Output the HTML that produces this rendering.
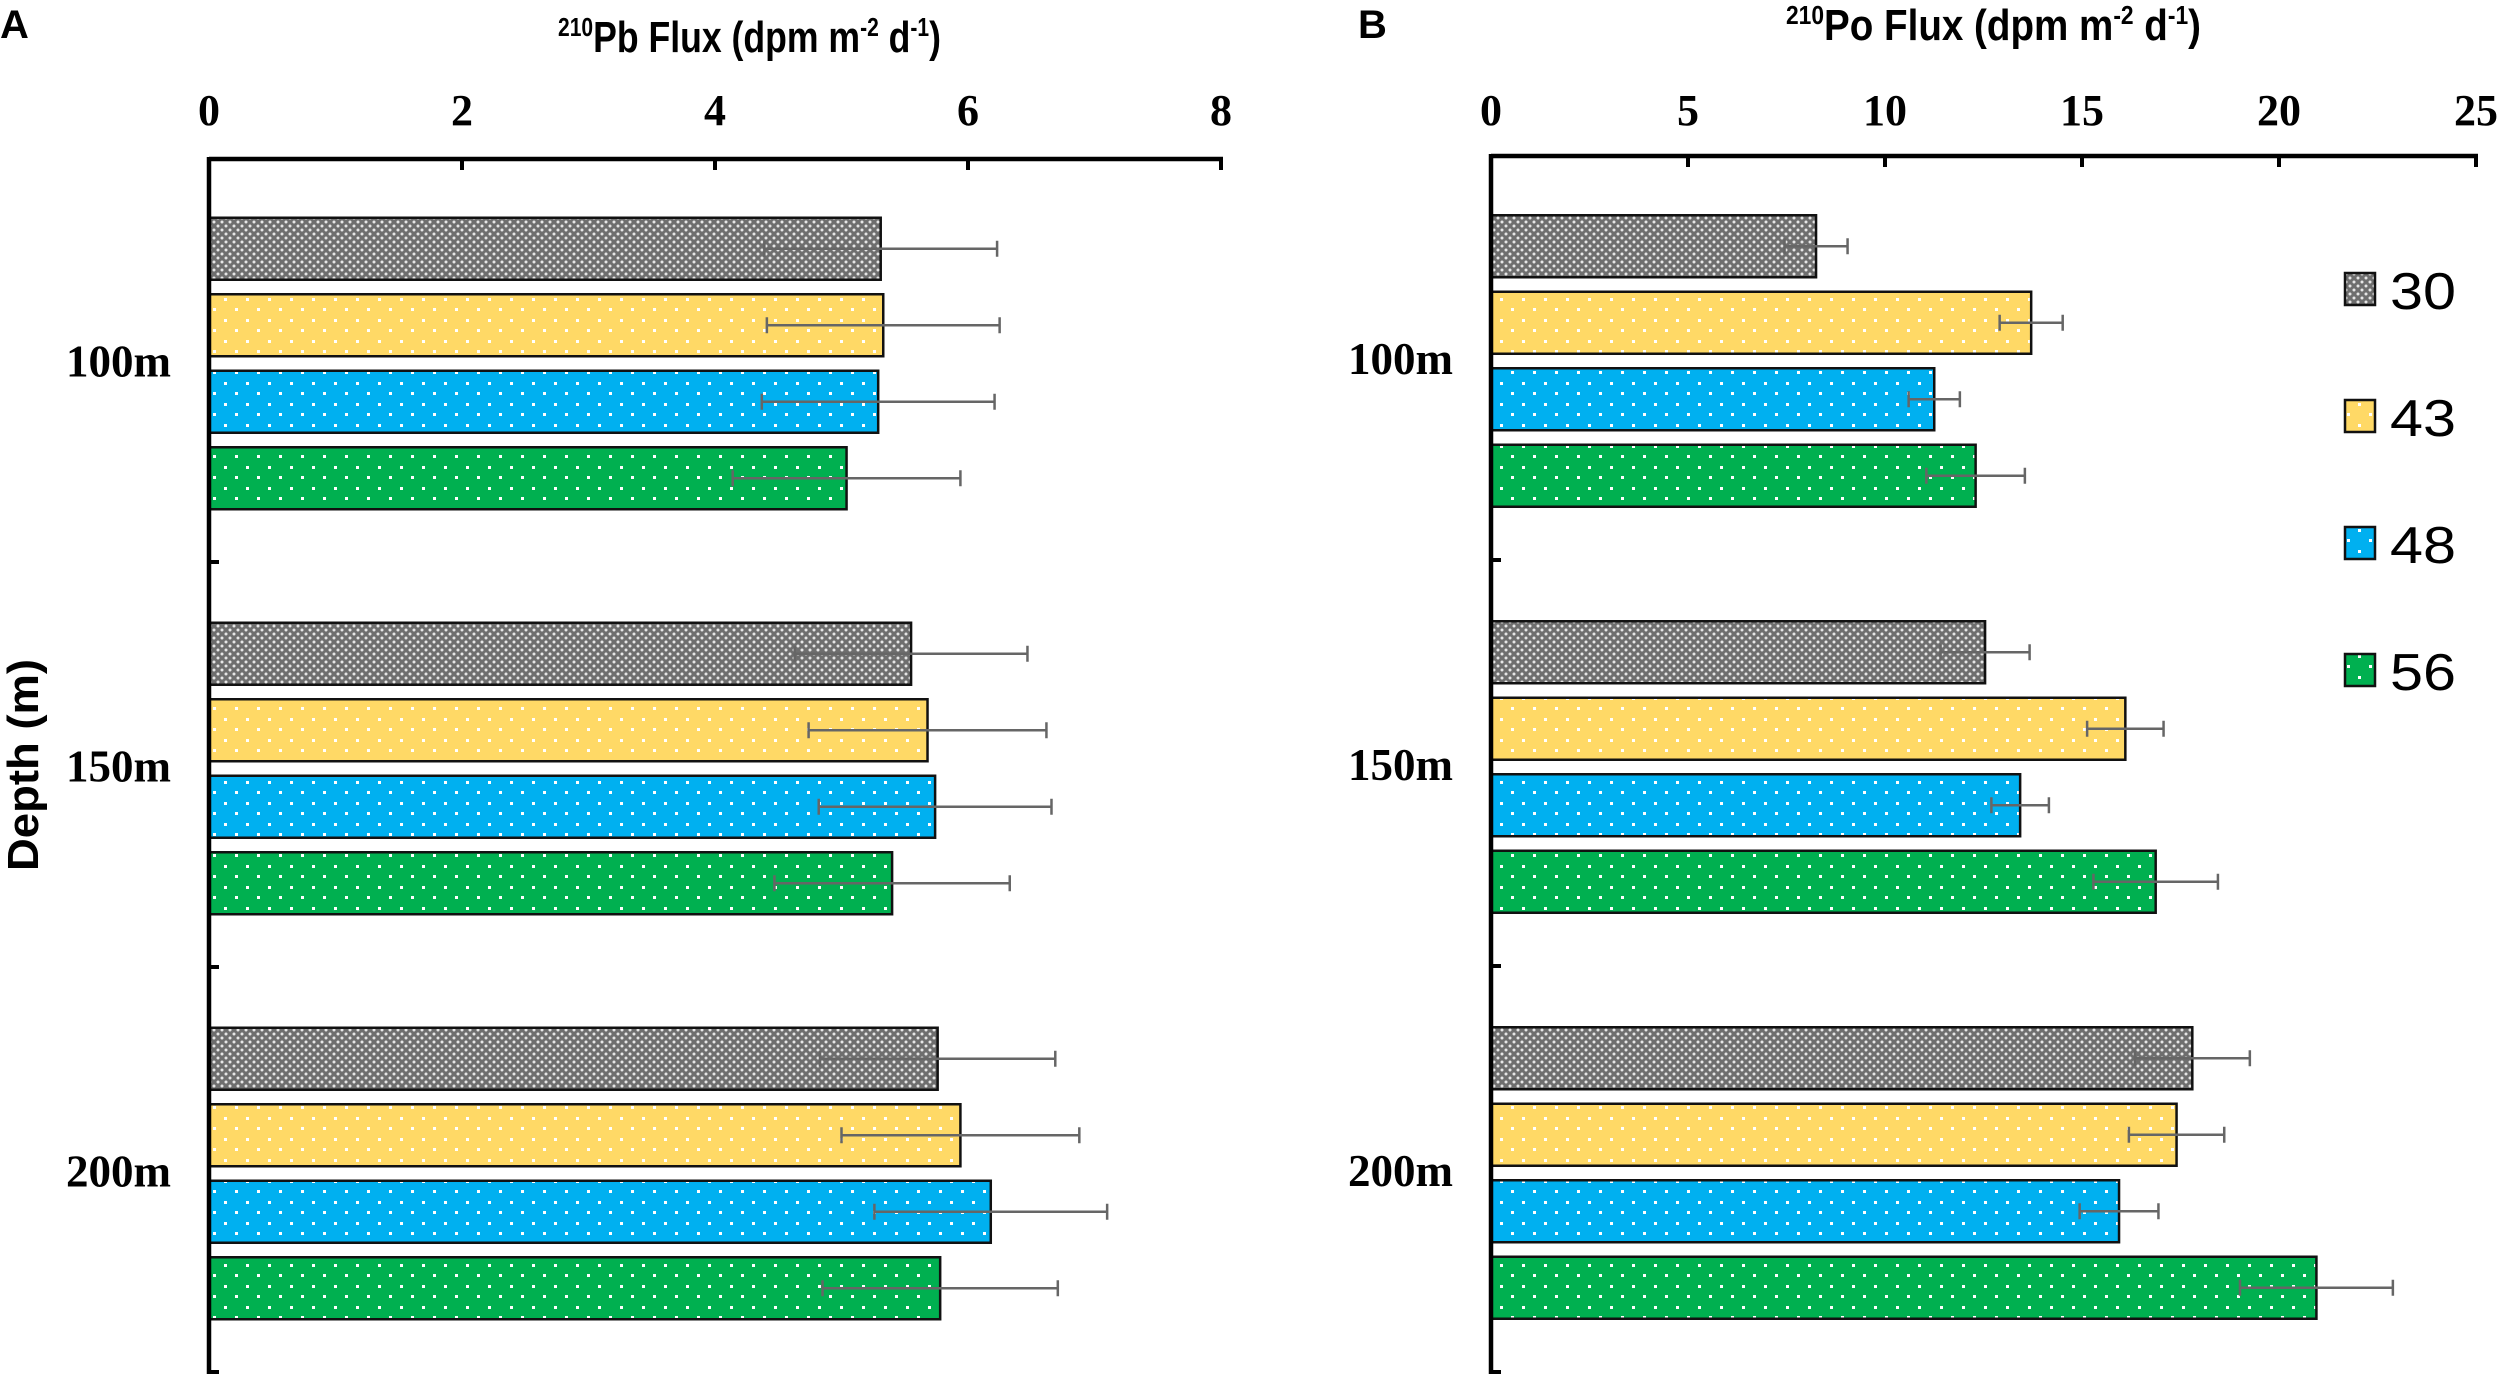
<!DOCTYPE html>
<html><head><meta charset="utf-8"><style>
body{margin:0;background:#fff;}
svg{display:block;}
.tick{font-family:"Liberation Serif",serif;font-weight:bold;font-size:44px;fill:#000;}
.cat{font-family:"Liberation Serif",serif;font-weight:bold;font-size:45px;fill:#000;}
.title{font-family:"Liberation Sans",sans-serif;font-weight:bold;font-size:44px;fill:#000;}
.leg{font-family:"Liberation Sans",sans-serif;font-size:52px;fill:#000;}
</style></head><body>
<svg id="chart" width="2500" height="1382" viewBox="0 0 2500 1382" xmlns="http://www.w3.org/2000/svg">
<defs>
<pattern id="p-gray" width="8" height="8" patternUnits="userSpaceOnUse"><rect width="8" height="8" fill="#6e6e6e"/><circle cx="2" cy="2" r="1.5" fill="#e6e6e6"/><circle cx="6" cy="6" r="1.5" fill="#e6e6e6"/></pattern>
<pattern id="p-yellow" width="22" height="21" patternUnits="userSpaceOnUse"><rect width="22" height="21" fill="#FFD966"/><rect x="4" y="4" width="3" height="3" fill="#fff"/><rect x="15" y="14" width="3" height="3" fill="#fff"/></pattern>
<pattern id="p-blue" width="22" height="21" patternUnits="userSpaceOnUse"><rect width="22" height="21" fill="#00B0F0"/><rect x="4" y="4" width="3" height="3" fill="#fff"/><rect x="15" y="14" width="3" height="3" fill="#fff"/></pattern>
<pattern id="p-green" width="22" height="21" patternUnits="userSpaceOnUse"><rect width="22" height="21" fill="#00B050"/><rect x="4" y="4" width="3" height="3" fill="#fff"/><rect x="15" y="14" width="3" height="3" fill="#fff"/></pattern>
</defs>
<g id="root"></g>
</svg>
<script>
const categories = ["100m","150m","200m"];
const seriesNames = ["30","43","48","56"];
const pbGray = [5.31,5.55,5.76];
const pbYellow = [5.33,5.68,5.94];
const pbBlue = [5.29,5.74,6.18];
const pbGreen = [5.04,5.40,5.78];
const pbErrGray = [0.92,0.92,0.93];
const pbErrYellow = [0.92,0.94,0.94];
const pbErrBlue = [0.92,0.92,0.92];
const pbErrGreen = [0.9,0.93,0.93];
const poGray = [8.25,12.54,17.8];
const poYellow = [13.71,16.1,17.4];
const poBlue = [11.25,13.43,15.94];
const poGreen = [12.3,16.87,20.95];
const poErrGray = [0.8,1.13,1.46];
const poErrYellow = [0.8,0.97,1.21];
const poErrBlue = [0.65,0.73,1.0];
const poErrGreen = [1.25,1.58,1.94];
const pbTicks = [0,2,4,6,8];
const poTicks = [0,5,10,15,20,25];

const NS="http://www.w3.org/2000/svg";
const root=document.getElementById('root');
function mk(tag,attrs,parent){const e=document.createElementNS(NS,tag);for(const k in attrs)e.setAttribute(k,attrs[k]);(parent||root).appendChild(e);return e;}
const fills=["url(#p-gray)","url(#p-yellow)","url(#p-blue)","url(#p-green)"];

function panel(id,x0,x1,yTop,yBot,max,ticks,vals,errs){
  const g=mk('g',{});
  
  
  const xs=v=>x0+(x1-x0)*v/max;
  const band=(yBot-yTop)/categories.length;
  const yc=i=>yTop+band*(i+0.5);
  const bh=62, step=76.5;
  categories.forEach((c,ci)=>{
    vals.forEach((arr,si)=>{
      const y=yc(ci)+(si-1.5)*step-bh/2+2;
      const r=mk('rect',{x:x0,y:y,width:xs(arr[ci])-x0,height:bh,fill:fills[si],stroke:'#111','stroke-width':2.5},g);
      
      
      const e=errs[si][ci], cy=y+bh/2;
      const eb=mk('g',{stroke:'#666','stroke-width':2.5},g);
      
      
      mk('line',{x1:xs(arr[ci]-e),x2:xs(arr[ci]+e),y1:cy,y2:cy},eb);
      mk('line',{x1:xs(arr[ci]-e),x2:xs(arr[ci]-e),y1:cy-8,y2:cy+8},eb);
      mk('line',{x1:xs(arr[ci]+e),x2:xs(arr[ci]+e),y1:cy-8,y2:cy+8},eb);
    });
    const t=mk('text',{x:x0-38,y:yc(ci)+15,'text-anchor':'end',class:'cat'},g);
    t.textContent=c;
    
    
  });
  const ax=mk('line',{x1:x0,x2:x1+2,y1:yTop,y2:yTop,stroke:'#000','stroke-width':4.5},g);
  
  
  const ay=mk('line',{x1:x0,x2:x0,y1:yTop-2,y2:yBot,stroke:'#000','stroke-width':4.5},g);
  
  
  for(let i=1;i<=categories.length;i++){
    mk('line',{x1:x0,x2:x0+10,y1:yTop+band*i-2,y2:yTop+band*i-2,stroke:'#000','stroke-width':4},g);
  }
  ticks.forEach(v=>{
    mk('line',{x1:xs(v),x2:xs(v),y1:yTop,y2:yTop+11,stroke:'#000','stroke-width':4},g);
    const t=mk('text',{x:xs(v),y:125,'text-anchor':'middle',class:'tick'},g);
    t.textContent=v;
    
    
  });
}
panel('pb',209,1221,159,1374,8,pbTicks,[pbGray,pbYellow,pbBlue,pbGreen],[pbErrGray,pbErrYellow,pbErrBlue,pbErrGreen]);
panel('po',1491,2476,156,1374,25,poTicks,[poGray,poYellow,poBlue,poGreen],[poErrGray,poErrYellow,poErrBlue,poErrGreen]);

const leg=mk('g',{});


seriesNames.forEach((n,i)=>{
  const y=290+i*127;
  const r=mk('rect',{x:2345,y:y-17,width:30,height:32,fill:fills[i],stroke:'#111','stroke-width':2.5},leg);
  
  
  const t=mk('text',{x:2390,y:y+19,class:'leg','textLength':66,'lengthAdjust':'spacingAndGlyphs'},leg);
  t.textContent=n;
  
  
});
</script>
<svg style="position:absolute;left:0;top:0" width="2500" height="1382" xmlns="http://www.w3.org/2000/svg">
<text x="0" y="38" font-family="Liberation Sans,sans-serif" font-weight="bold" font-size="40">A</text>
<text x="1358" y="38" font-family="Liberation Sans,sans-serif" font-weight="bold" font-size="40">B</text>
<text class="title" x="558" y="52" textLength="383" lengthAdjust="spacingAndGlyphs"><tspan font-size="26" dy="-16">210</tspan><tspan dy="16">Pb Flux (dpm m</tspan><tspan font-size="26" dy="-16">-2</tspan><tspan dy="16"> d</tspan><tspan font-size="26" dy="-16">-1</tspan><tspan dy="16">)</tspan></text>
<text class="title" x="1786" y="40" textLength="415" lengthAdjust="spacingAndGlyphs"><tspan font-size="26" dy="-16">210</tspan><tspan dy="16">Po Flux (dpm m</tspan><tspan font-size="26" dy="-16">-2</tspan><tspan dy="16"> d</tspan><tspan font-size="26" dy="-16">-1</tspan><tspan dy="16">)</tspan></text>
<text class="title" transform="translate(38,765) rotate(-90)" text-anchor="middle" textLength="212" lengthAdjust="spacingAndGlyphs">Depth (m)</text>
</svg>
</body></html>
